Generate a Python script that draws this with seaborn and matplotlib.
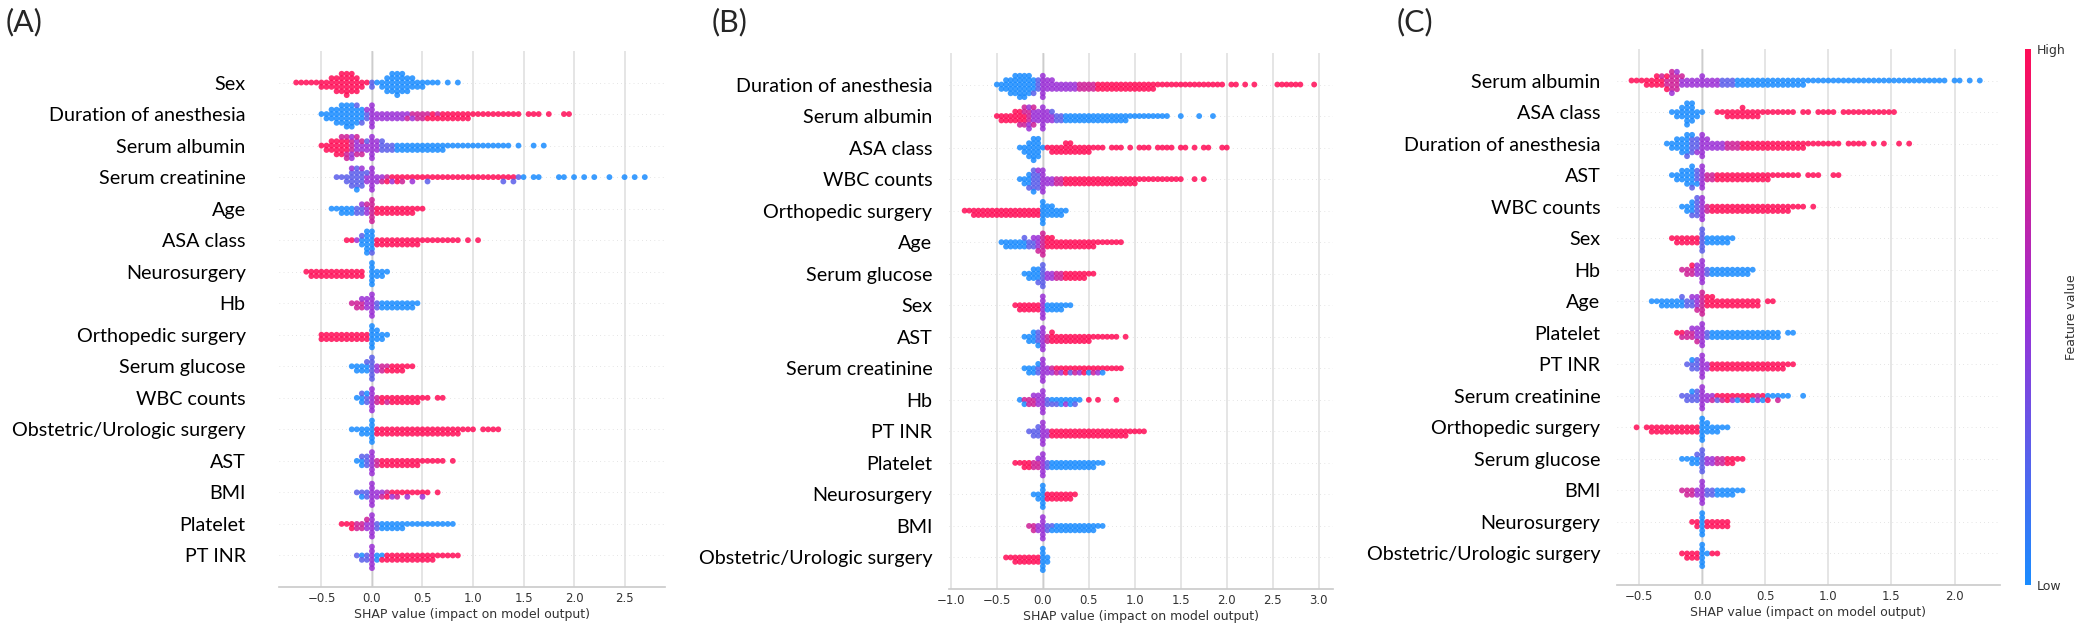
import numpy as np
import pandas as pd
import matplotlib
matplotlib.use("Agg")
import matplotlib.pyplot as plt
from matplotlib.colors import LinearSegmentedColormap, Normalize
from matplotlib.cm import ScalarMappable
import seaborn as sns

# Beeswarm rows.
# Each token is one bin of width BIN_x, starting at the row's start value:
# "3r" = 3 points with a high feature value, "2b+1v" = mixed bin, "." = empty,
# "2r*6" = the same bin content repeated over 6 bins.
# Feature value levels: b=low, v, p, m, r=high.
LEVEL_VALUES = {"b": 0.0, "v": 0.25, "p": 0.5, "m": 0.75, "r": 1.0}

BIN_A = 0.05
FEATURES_A = [
    "Sex", "Duration of anesthesia", "Serum albumin", "Serum creatinine", "Age",
    "ASA class", "Neurosurgery", "Hb", "Orthopedic surgery", "Serum glucose",
    "WBC counts", "Obstetric/Urologic surgery", "AST", "BMI", "Platelet", "PT INR",
]
STARTS_A = [-0.75, -0.50, -0.50, -0.35, -0.40, -0.25, -0.65, -0.20,
            -0.50, -0.20, -0.15, -0.20, -0.15, -0.15, -0.30, -0.15]
SWARM_A = [
    "1r*5 2r 2r 3r 4r 5r 6r 5r 4r 2r 1r 2v 1b 2b 4b 5b 6b 5b 4b 3b 2b 2b 1b 1b 1b . 1b . 1b",
    "1b 2b 3b 4b 5b 6b 6b 4b+1v 3b+1v 2v+1p 6p 2p*6 1p+1m 1m+1p 2m 2m 1m+1r 2r 1m+1r 2r*6 1r*10 . 1r 1r 1r . 1r . . 1r 1r",
    "1r 2r 3r 4r 4r+1m 3r+3m 3m+3p 3p+2m 2p+2m 2p+1v 6p 3p 3v 2v 2v 2b*10 1b*13 . 1b . . 1b . 1b",
    "1v 1v 2v 4v+1p 5v+1b 4v+1p 2p+1v 6p 2p 1p+1m 1m+1r 1r+1p 2r 1r+1m 1r 1r+1p 1r 1r 1r+1v 1r*14 1r+1v 1r 1r+1v 1v 1b . 1b 1b . . . 1b 1b . 1b . 1b . 1b . . 1b . . 1b . 1b . 1b",
    "1b 1b 2b 2b 2b 2v 2v+1p 2p+1m 6m 2r*8 1r 1r",
    "1r 1r 1p 2b+1v 6b 5b+1v 2r*9 1r*8 . 1r . 1r",
    "1r 2r*11 . 6b 2b 2b 1b",
    "1m 2m 2m+1p 3p 6p 2v 2b*7 1b",
    "2r*10 6b 3b 2b 1b",
    "1b 2b 2b 2b+1v 6v 2p 2m 1m+1r 2r 2r 2r 1r 1r",
    "1b 2b+1v 2v+1b 6p 2m 2r 1r+1m 2r*6 1r 1r . 1r 1r",
    "1b 1b 2b 2b 6b 2r*17 1r 1r 1r . 1r 1r 1r 1r",
    "1b 2b+1v 3v 6p 2m 2r*8 1r*5 . 1r",
    "1v 1v+1b 2v 6p 2p 1p+1m 1m+1r 1r+1p 1r+1m 1r 1r+1p 1r 1r 1r+1p 1r . 1r",
    "1r 1r 2r 2m 2m 2p+1m 6p 2v 2b*5 1b*10",
    "1v 1b+1v 2v 6p 2b 1b+1r 2r*10 1r*5",
]

BIN_B = 0.05
FEATURES_B = [
    "Duration of anesthesia", "Serum albumin", "ASA class", "WBC counts",
    "Orthopedic surgery", "Age", "Serum glucose", "Sex", "AST", "Serum creatinine",
    "Hb", "PT INR", "Platelet", "Neurosurgery", "BMI", "Obstetric/Urologic surgery",
]
STARTS_B = [-0.50, -0.50, -0.25, -0.25, -0.85, -0.45, -0.20, -0.30,
            -0.20, -0.20, -0.25, -0.15, -0.30, -0.10, -0.15, -0.40]
SWARM_B = [
    "1b 2b 3b 4b 5b 6b 6b 5b 3b+1v 3v 6p 3p 3p 2p*5 2m*4 2r*13 1r*15 . 1r 1r . 1r . 1r . . . . 1r*6 . . 1r",
    "1r 2r 2r 2r 3r 3r+1m 2r+3m 3m+3p 3p+2m 3p 6p 3p 2p+1v 2v 2v 2b*14 1b*9 . . 1b . . . 1b . . 1b",
    "1b 2b 4b 6b 5b 1b 1r 2r 2r 2r 3r 3r 2r 2r 2r 2r 1r 1r 1r . 1r 1r 1r . 1r . 1r 1r 1r . 1r 1r 1r 1r . 1r 1r . 1r . 1r 1r . . 1r 1r",
    "1b 2b 3b+1v 5v+1b 4v+1p 6p 2p 2p 2m 2m 2r*16 1r*9 1r . . 1r . 1r",
    "1r 1r 2r*15 6b 3b 3b 2b 2b 1b",
    "1b 2b 2b 2b 2b 2b+1v 2v 2v+1p 3p+1m 6m 3r 3r 2r*9 1r*6",
    "1b 2b 3b 3b+1v 6v 2p 2p 2m 2m 2r*5 1r 1r",
    "1r 2r*5 6p 2b*4 1b 1b",
    "1b 2b 3b 3v+1b 6p 2m 3r 2r*8 1r*6 . 1r",
    "1b 2b 2b 2v+1b 6p 2p 1m+1p 1r+1m 1r+1p 2r 1r+1v 1r+1m 1r+1p 2r 1r+1b 1r+1m 1r+1p 1r+1b 1r 1r 1r 1r",
    "1b 1m+1b 2m 2m+1p 3p 6p 2v 1b+1v 1b+1v 2b 1b+1p 2b 1b+1v 1b . 1r . 1r . . . 1r",
    "1v 2v 3v 6p 2p 2r*17 1r*4",
    "1r 1r 2r 2r 2m 2m+1p 6p 2v 2b*10 1b 1b",
    "1b 2b 6b 2r*6 1r",
    "1m 2m 2p 6p 2v 1v+1b 2b*9 1b 1b",
    "1r 1r 2r*6 6b 2b",
]

BIN_C = 0.04
FEATURES_C = [
    "Serum albumin", "ASA class", "Duration of anesthesia", "AST", "WBC counts",
    "Sex", "Hb", "Age", "Platelet", "PT INR", "Serum creatinine",
    "Orthopedic surgery", "Serum glucose", "BMI", "Neurosurgery",
    "Obstetric/Urologic surgery",
]
STARTS_C = [-0.56, -0.24, -0.28, -0.24, -0.16, -0.24, -0.16, -0.40,
            -0.20, -0.12, -0.16, -0.52, -0.16, -0.16, -0.08, -0.16]
SWARM_C = [
    "1r 1r 1r 2r 2r 3r 2r+1m 2m+2r 5m+1p 4m+1p 2p+1m 2p 2p 2p 3p 2p 2p 2p 2v 2v 2v 2b*14 1b*27 1b . 1b 1b . 1b . 1b",
    "1b 2b 3b 6b 5b 2b 1b . . 1r 1r 2r 2r 2r 3r 2r 2r 2r 1r 1r*6 . 1r 1r . 1r 1r 1r 1r . 1r*11",
    "1b 2b 3b 4b 5b+1v 4v+1b 3v+1p 6p 3p 2p 2p 2p 2m 2m 2m 2r*13 1r*5 1r 1r . 1r 1r 1r 1r . 1r . 1r . . 1r . 1r",
    "1b 2b 3b 4b 5b+1v 3v+1b 6p 2m 2m 2r*11 1r*6 . 1r 1r 1r . . 1r 1r",
    "1b 2b 3b+1v 5v 6p 2m 2r*16 1r 1r 1r . 1r",
    "1r 2r*5 6v 2b*5 1b",
    "1m 2m 2m+1r 3p 6p 2v 2b*8 1b",
    "1b 1b 2b 2b 2b 2b 2b+1v 2v 2v+1p 3p+1m 6m 3r 3r 2r*9 . 1r 1r",
    "1r 1r+1m 2m 2m+1p 3p+1m 6p 2v 2b*14 . 1b 1b",
    "1v 2v+1b 3v 6p 2p 2r*15 1r 1r",
    "1v 2v 2v+1b 3v 6p 2p 1p+1m 1r+1v 1r+1m 2r 1r+1p 1r+1b 1r+1m 2r 1r+1b 1m+1p 1r+1b 1b+1r 1b 1b+1m 1b 1b . . 1b",
    "1r . 1r 2r*10 6b 3b 2b 2b 1b 1b",
    "1b 1b 2b 2b+1v 6v 2p 2p 2m 2m 2r 2r 1r 1r",
    "1m 2m 2m 2p 6p 2v 2v 2b 2b 2b 2b 1b 1b",
    "1r 2r 6b 2r*5",
    "1r 2r 2r 2r 6b 1b 1r 1r",
]

XTICKS_A = [-0.5, 0.0, 0.5, 1.0, 1.5, 2.0, 2.5]
XTICKS_B = [-1.0, -0.5, 0.0, 0.5, 1.0, 1.5, 2.0, 2.5, 3.0]
XTICKS_C = [-0.5, 0.0, 0.5, 1.0, 1.5, 2.0]

FIG_W, FIG_H = 2075, 631
SWARM_SIZE = 3.0    # marker size used by the swarm layout (points)
DOT_SIZE = 4.2      # marker size actually drawn, so neighbours overlap into bands
CMAP = LinearSegmentedColormap.from_list(
    "shap_red_blue", ["#1a8cff", "#9b30d6", "#ff0d57"])


def expand(start, step, spec):
    shap_vals, levels = [], []
    pos = start
    for tok in spec.split():
        tok, _, rep = tok.partition("*")
        for _ in range(int(rep or 1)):
            if tok != ".":
                for part in tok.split("+"):
                    n, lvl = int(part[:-1]), part[-1]
                    shap_vals += [round(pos, 3)] * n
                    levels += [lvl] * n
            pos += step
    return shap_vals, levels


def panel_frame(features, starts, specs, step):
    parts = []
    for feat, start, spec in zip(features, starts, specs):
        vals, lv = expand(start, step, spec)
        parts.append(pd.DataFrame({"feature": feat, "shap": vals, "level": lv}))
    return pd.concat(parts, ignore_index=True)


def px_rect(left, top, right, bottom):
    return [left / FIG_W, 1 - bottom / FIG_H, (right - left) / FIG_W, (bottom - top) / FIG_H]


def draw_panel(fig, rect, features, starts, specs, step, xlim, xticks, label_pad):
    ax = fig.add_axes(rect)
    df = panel_frame(features, starts, specs, step)
    palette = {k: CMAP(v) for k, v in LEVEL_VALUES.items()}
    sns.swarmplot(
        data=df, x="shap", y="feature", order=features,
        hue="level", hue_order=list(LEVEL_VALUES), palette=palette,
        size=SWARM_SIZE, linewidth=0, alpha=0.85, legend=False,
        orient="y", warn_thresh=1, ax=ax,
    )
    n = len(features)
    for i in range(n):
        ax.axhline(i, color="#cccccc", lw=0.5, dashes=(1, 5), zorder=-1)
    ax.axvline(0, color="#999999", lw=1, zorder=-1)
    ax.set_xlim(*xlim)
    ax.set_ylim(n, -1)
    ax.set_xticks(xticks)
    ax.set_yticks(range(n))
    ax.set_yticklabels(features, fontfamily="Lato", fontsize=14.2, color="black")
    ax.tick_params(axis="y", length=0, pad=label_pad)
    ax.tick_params(axis="x", length=0, pad=3.5, labelsize=8.5, labelcolor="#333333")
    ax.grid(axis="y", visible=False)
    ax.grid(axis="x", color="#dedede", lw=1.1)
    for side in ("left", "top", "right"):
        ax.spines[side].set_visible(False)
    ax.spines["bottom"].set_color("#cccccc")
    ax.set_ylabel("")
    ax.set_xlabel("SHAP value (impact on model output)", fontsize=9,
                  color="#333333", labelpad=2)
    return ax


def freeze_swarms(fig, axes):
    # let seaborn lay the swarms out once, then keep those offsets and draw bigger dots
    fig.canvas.draw()
    for ax in axes:
        for coll in ax.collections:
            if "draw" in vars(coll):
                del coll.draw
                coll.set_sizes([DOT_SIZE ** 2])


def main():
    sns.set_theme(style="whitegrid")
    plt.rcParams["font.family"] = ["DejaVu Sans"]
    fig = plt.figure(figsize=(FIG_W / 100, FIG_H / 100), dpi=100)

    axes = [
        draw_panel(fig, px_rect(279, 51, 665, 587), FEATURES_A, STARTS_A, SWARM_A,
                   BIN_A, (-0.92, 2.90), XTICKS_A, 24),
        draw_panel(fig, px_rect(949, 53, 1333, 589), FEATURES_B, STARTS_B, SWARM_B,
                   BIN_B, (-1.02, 3.155), XTICKS_B, 12),
        draw_panel(fig, px_rect(1617, 49, 2000, 585), FEATURES_C, STARTS_C, SWARM_C,
                   BIN_C, (-0.675, 2.36), XTICKS_C, 12),
    ]

    for x, tag in [(6, "(A)"), (712, "(B)"), (1397, "(C)")]:
        fig.text(x / FIG_W, 1 - 22 / FIG_H, tag, fontsize=22, family="Lato",
                 ha="left", va="center")

    cax = fig.add_axes(px_rect(2025, 49, 2031, 585))
    cb = fig.colorbar(ScalarMappable(norm=Normalize(0, 1), cmap=CMAP),
                      cax=cax, ticks=[0, 1])
    cb.set_ticklabels(["Low", "High"])
    cb.outline.set_visible(False)
    cax.tick_params(length=0, labelsize=9, pad=4, labelcolor="#333333")
    cb.set_label("Feature value", size=9, labelpad=0, color="#333333")

    freeze_swarms(fig, axes)
    fig.savefig("out.png", dpi=100)
    plt.close(fig)


if __name__ == "__main__":
    main()
